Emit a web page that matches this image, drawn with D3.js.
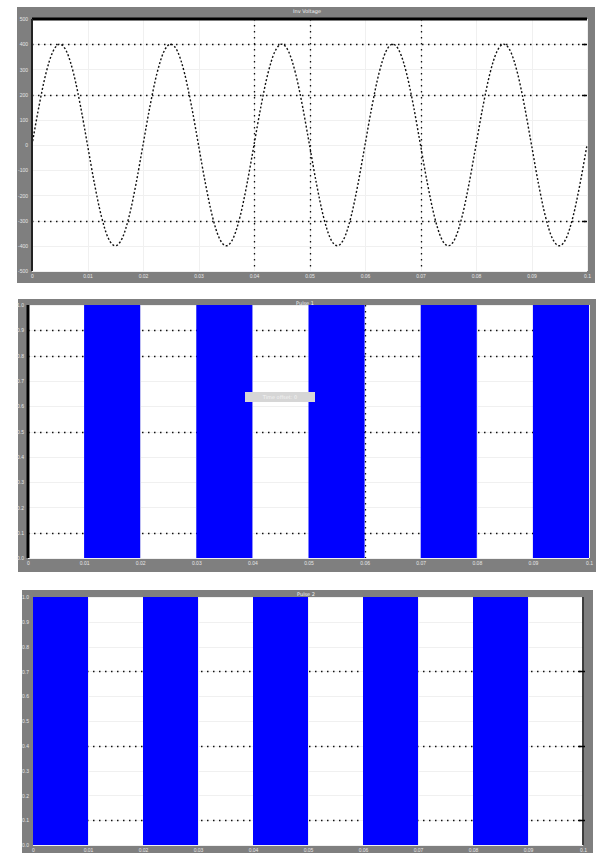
<!DOCTYPE html>
<html>
<head>
<meta charset="utf-8">
<script src="https://cdn.jsdelivr.net/npm/d3@7"></script>
<style>
  body { margin: 0; background: #fff; }
  svg { display: block; font-family: "DejaVu Sans", sans-serif; }
</style>
</head>
<body>
<svg id="chart" width="613" height="855"></svg>
<script>
// shared time axis (s)
const timeTicks = [0, 0.01, 0.02, 0.03, 0.04, 0.05, 0.06, 0.07, 0.08, 0.09, 0.1];
const timeTickLabels = ["0", "0.01", "0.02", "0.03", "0.04", "0.05", "0.06", "0.07", "0.08", "0.09", "0.1"];

// inverter voltage, every 1.25 ms
const voltageTime = [
  0, 0.00125, 0.0025, 0.00375, 0.005, 0.00625, 0.0075, 0.00875,
  0.01, 0.01125, 0.0125, 0.01375, 0.015, 0.01625, 0.0175, 0.01875,
  0.02, 0.02125, 0.0225, 0.02375, 0.025, 0.02625, 0.0275, 0.02875,
  0.03, 0.03125, 0.0325, 0.03375, 0.035, 0.03625, 0.0375, 0.03875,
  0.04, 0.04125, 0.0425, 0.04375, 0.045, 0.04625, 0.0475, 0.04875,
  0.05, 0.05125, 0.0525, 0.05375, 0.055, 0.05625, 0.0575, 0.05875,
  0.06, 0.06125, 0.0625, 0.06375, 0.065, 0.06625, 0.0675, 0.06875,
  0.07, 0.07125, 0.0725, 0.07375, 0.075, 0.07625, 0.0775, 0.07875,
  0.08, 0.08125, 0.0825, 0.08375, 0.085, 0.08625, 0.0875, 0.08875,
  0.09, 0.09125, 0.0925, 0.09375, 0.095, 0.09625, 0.0975, 0.09875, 0.1
];
const voltageValues = [
  0, 153, 283, 370, 400, 370, 283, 153, 0, -153, -283, -370, -400, -370, -283, -153,
  0, 153, 283, 370, 400, 370, 283, 153, 0, -153, -283, -370, -400, -370, -283, -153,
  0, 153, 283, 370, 400, 370, 283, 153, 0, -153, -283, -370, -400, -370, -283, -153,
  0, 153, 283, 370, 400, 370, 283, 153, 0, -153, -283, -370, -400, -370, -283, -153,
  0, 153, 283, 370, 400, 370, 283, 153, 0, -153, -283, -370, -400, -370, -283, -153, 0
];
const voltageTicks = [500, 400, 300, 200, 100, 0, -100, -200, -300, -400, -500];

// gate pulses (switch times and levels)
const pulseTime = [0, 0.01, 0.02, 0.03, 0.04, 0.05, 0.06, 0.07, 0.08, 0.09, 0.1];
const pulse1Values = [0, 1, 0, 1, 0, 1, 0, 1, 0, 1, 1];
const pulse2Values = [1, 0, 1, 0, 1, 0, 1, 0, 1, 0, 0];
const pulseTicks = [1, 0.9, 0.8, 0.7, 0.6, 0.5, 0.4, 0.3, 0.2, 0.1, 0];

const titles = ["Inv Voltage", "Pulse 1", "Pulse 2"];

const svg = d3.select("#chart");
const frameGrey = "#7f7f7f";

function drawFrame(p) {
  const g = svg.append("g");
  g.append("rect")
    .attr("x", p.frame[0]).attr("y", p.frame[1])
    .attr("width", p.frame[2]).attr("height", p.frame[3])
    .attr("fill", frameGrey);
  g.append("rect")
    .attr("x", p.plot[0]).attr("y", p.plot[1])
    .attr("width", p.plot[2]).attr("height", p.plot[3])
    .attr("fill", "#fff");
  g.append("text")
    .attr("x", p.titleX).attr("y", p.frame[1] + 6)
    .attr("text-anchor", "middle")
    .attr("font-size", 5).attr("fill", "#f2f2f2")
    .text(p.title);
  return g;
}

function drawAxes(g, p, x, y, yTicks, yFmt) {
  const [px, py, pw, ph] = p.plot;

  // faint full grid
  g.append("g").selectAll("line").data(yTicks).join("line")
    .attr("x1", px).attr("x2", px + pw)
    .attr("y1", d => Math.round(y(d)) + 0.5).attr("y2", d => Math.round(y(d)) + 0.5)
    .attr("stroke", "#f0f0f0");
  g.append("g").selectAll("line").data(timeTicks).join("line")
    .attr("y1", py).attr("y2", py + ph)
    .attr("x1", d => Math.round(x(d)) + 0.5).attr("x2", d => Math.round(x(d)) + 0.5)
    .attr("stroke", "#f0f0f0");

  // dotted grid lines that survived the capture
  g.append("g").selectAll("line").data(p.hGrid).join("line")
    .attr("x1", px).attr("x2", px + pw)
    .attr("y1", i => Math.round(y(yTicks[i])) + 0.5).attr("y2", i => Math.round(y(yTicks[i])) + 0.5)
    .attr("stroke", "#111").attr("stroke-width", 1.3)
    .attr("stroke-dasharray", "1.5,4.5");
  g.append("g").selectAll("line").data(p.vGrid).join("line")
    .attr("y1", py).attr("y2", py + ph)
    .attr("x1", i => Math.round(x(timeTicks[i])) + 0.5).attr("x2", i => Math.round(x(timeTicks[i])) + 0.5)
    .attr("stroke", "#111").attr("stroke-width", 1.3)
    .attr("stroke-dasharray", "1.5,4.5");

  // tick labels
  const xAxis = g.append("g")
    .attr("transform", `translate(0,${py + ph})`)
    .call(d3.axisBottom(x).tickValues(timeTicks)
      .tickFormat((d, i) => timeTickLabels[i]).tickSize(0).tickPadding(3));
  const yAxis = g.append("g")
    .attr("transform", `translate(${px},0)`)
    .call(d3.axisLeft(y).tickValues(yTicks).tickFormat(yFmt).tickSize(0).tickPadding(4));
  [xAxis, yAxis].forEach(a => {
    a.select(".domain").remove();
    a.selectAll("text").attr("font-size", 5).attr("fill", "#e6e6e6");
  });
}

// ---- panel 1: inverter voltage ----
const p1 = { frame: [17, 7, 578, 276], plot: [32, 19, 555, 252], titleX: 307,
  title: titles[0], hGrid: [1, 3, 8], vGrid: [4, 5, 7] };
const x1 = d3.scaleLinear().domain([0, 0.1]).range([p1.plot[0], p1.plot[0] + p1.plot[2]]);
const y1 = d3.scaleLinear().domain([-500, 500]).range([p1.plot[1] + p1.plot[3], p1.plot[1]]);
const g1 = drawFrame(p1);
drawAxes(g1, p1, x1, y1, voltageTicks, d => d);

const wave = d3.line()
  .x(d => x1(d[0]))
  .y(d => y1(d[1]))
  .curve(d3.curveCardinal.tension(0));
g1.append("path")
  .datum(voltageTime.map((t, i) => [t, voltageValues[i]]))
  .attr("fill", "none")
  .attr("stroke", "#111")
  .attr("stroke-width", 1.4)
  .attr("stroke-dasharray", "2,2")
  .attr("d", wave);

// plot edges
g1.append("line").attr("x1", p1.plot[0]).attr("x2", p1.plot[0] + p1.plot[2])
  .attr("y1", p1.plot[1]).attr("y2", p1.plot[1]).attr("stroke", "#000").attr("stroke-width", 3);
g1.append("line").attr("x1", p1.plot[0]).attr("x2", p1.plot[0])
  .attr("y1", p1.plot[1]).attr("y2", p1.plot[1] + p1.plot[3]).attr("stroke", "#222").attr("stroke-width", 2);
g1.append("g").selectAll("line").data(p1.hGrid).join("line")
  .attr("x1", p1.plot[0] + p1.plot[2] - 5).attr("x2", p1.plot[0] + p1.plot[2])
  .attr("y1", i => Math.round(y1(voltageTicks[i])) + 0.5)
  .attr("y2", i => Math.round(y1(voltageTicks[i])) + 0.5)
  .attr("stroke", "#000").attr("stroke-width", 1.5);

// ---- pulse panels ----
function pulsePanel(p, values) {
  const x = d3.scaleLinear().domain([0, 0.1]).range([p.plot[0], p.plot[0] + p.plot[2]]);
  const y = d3.scaleLinear().domain([0, 1]).range([p.plot[1] + p.plot[3], p.plot[1]]);
  const g = drawFrame(p);
  drawAxes(g, p, x, y, pulseTicks, d3.format(".1f"));
  g.append("path")
    .datum(pulseTime.map((t, i) => [t, values[i]]))
    .attr("fill", "#0000ff")
    .attr("d", d3.area().x(d => x(d[0])).y0(y(0)).y1(d => y(d[1])).curve(d3.curveStepAfter));
  return { g, x, y };
}

const p2 = { frame: [18, 299, 578, 273], plot: [28, 305, 561, 253], titleX: 305,
  title: titles[1], hGrid: [1, 2, 5, 9], vGrid: [6] };
const r2 = pulsePanel(p2, pulse1Values);
r2.g.append("line").attr("x1", p2.plot[0]).attr("x2", p2.plot[0])
  .attr("y1", p2.plot[1]).attr("y2", p2.plot[1] + p2.plot[3]).attr("stroke", "#000").attr("stroke-width", 3);
// small popup box left on the capture
r2.g.append("rect").attr("x", 245).attr("y", 392).attr("width", 70).attr("height", 10)
  .attr("fill", "#d6d6d6");
r2.g.append("text").attr("x", 280).attr("y", 399).attr("text-anchor", "middle")
  .attr("font-size", 5).attr("fill", "#f4f4f4").text("Time offset: 0");

const p3 = { frame: [22, 590, 571, 263], plot: [33, 597, 550, 248], titleX: 306,
  title: titles[2], hGrid: [3, 6, 9], vGrid: [] };
const r3 = pulsePanel(p3, pulse2Values);
r3.g.append("line").attr("x1", p3.plot[0] + p3.plot[2]).attr("x2", p3.plot[0] + p3.plot[2])
  .attr("y1", p3.plot[1]).attr("y2", p3.plot[1] + p3.plot[3]).attr("stroke", "#000").attr("stroke-width", 1.5);
r3.g.append("g").selectAll("line").data(p3.hGrid).join("line")
  .attr("x1", p3.plot[0] + p3.plot[2] - 5).attr("x2", p3.plot[0] + p3.plot[2] + 2)
  .attr("y1", i => Math.round(r3.y(pulseTicks[i])) + 0.5)
  .attr("y2", i => Math.round(r3.y(pulseTicks[i])) + 0.5)
  .attr("stroke", "#000").attr("stroke-width", 1.5);
</script>
</body>
</html>
